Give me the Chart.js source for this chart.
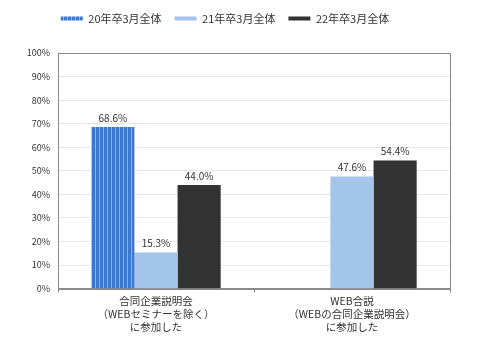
<!DOCTYPE html>
<html>
<head>
<meta charset="utf-8">
<script src="https://cdn.jsdelivr.net/npm/chart.js@4/dist/chart.umd.min.js"></script>
<style>
  html, body { margin: 0; padding: 0; background: #fff; }
  #wrap { width: 485px; height: 338px; }
</style>
</head>
<body>
<div id="wrap"><canvas id="surveyChart"></canvas></div>
<script>
const categories = [
  ['合同企業説明会', '（WEBセミナーを除く）', 'に参加した'],
  ['WEB合説', '（WEBの合同企業説明会）', 'に参加した']
];
const seriesNames = ['20年卒3月全体', '21年卒3月全体', '22年卒3月全体'];
const grad20 = [68.6, null];
const grad21 = [15.3, 47.6];
const grad22 = [44.0, 54.4];
const yTicks = [0, 10, 20, 30, 40, 50, 60, 70, 80, 90, 100];

const FONT = '"Noto Sans CJK JP", "DejaVu Sans", sans-serif';

// vertical stripes for the 20年卒 series
function stripePattern() {
  const c = document.createElement('canvas');
  c.width = 4; c.height = 4;
  const g = c.getContext('2d');
  g.fillStyle = '#3b78d0';
  g.fillRect(0, 0, 4, 4);
  g.fillStyle = '#8db3ea';
  g.fillRect(3, 0, 1, 4);
  return g.createPattern(c, 'repeat');
}
const stripes = stripePattern();

// extra gap under the legend
const legendGap = {
  id: 'legendGap',
  beforeInit(chart) {
    const fit = chart.legend.fit;
    chart.legend.fit = function () {
      fit.call(this);
      this.height += 19;
    };
  }
};

// frame round the plot area (top and right sides)
const frame = {
  id: 'frame',
  afterDraw(chart) {
    const { ctx, chartArea: a } = chart;
    ctx.save();
    ctx.strokeStyle = '#8a8a8a';
    ctx.lineWidth = 1;
    ctx.strokeRect(Math.round(a.left) + 0.5, Math.round(a.top) + 0.5,
      Math.round(a.right - a.left), Math.round(a.bottom - a.top));
    ctx.restore();
  }
};

// percentage labels above each bar
const valueLabels = {
  id: 'valueLabels',
  afterDatasetsDraw(chart) {
    const ctx = chart.ctx;
    ctx.save();
    ctx.font = '10px ' + FONT;
    ctx.fillStyle = '#333';
    ctx.textAlign = 'center';
    ctx.textBaseline = 'bottom';
    chart.data.datasets.forEach((ds, i) => {
      chart.getDatasetMeta(i).data.forEach((bar, j) => {
        const v = ds.data[j];
        if (v == null) return;
        ctx.fillText(v.toFixed(1) + '%', bar.x, bar.y - 4);
      });
    });
    ctx.restore();
  }
};

new Chart(document.getElementById('surveyChart'), {
  type: 'bar',
  data: {
    labels: categories,
    datasets: [
      { label: seriesNames[0], data: grad20, backgroundColor: stripes },
      { label: seriesNames[1], data: grad21, backgroundColor: '#a3c5ec' },
      { label: seriesNames[2], data: grad22, backgroundColor: '#333333' }
    ]
  },
  options: {
    responsive: true,
    maintainAspectRatio: false,
    animation: false,
    devicePixelRatio: 1,
    datasets: {
      bar: { categoryPercentage: 0.66, barPercentage: 1.0 }
    },
    layout: { padding: { left: 0, right: 35, top: 0, bottom: 2 } },
    plugins: {
      tooltip: { enabled: false },
      legend: {
        position: 'top',
        labels: {
          boxWidth: 22,
          boxHeight: 4,
          padding: 13,
          color: '#333',
          font: { family: FONT, size: 11 }
        }
      }
    },
    scales: {
      x: {
        grid: { display: true, drawOnChartArea: false, offset: true, tickLength: 4, color: '#8a8a8a' },
        border: { color: '#8a8a8a' },
        ticks: {
          color: '#333',
          font: { family: FONT, size: 10.5, lineHeight: 1.25 },
          maxRotation: 0,
          padding: 2
        }
      },
      y: {
        min: 0,
        max: 100,
        afterFit: s => { s.width = 58; },
        afterBuildTicks: s => { s.ticks = yTicks.map(v => ({ value: v })); },
        grid: { color: '#e6e6e6', drawTicks: false },
        border: { color: '#8a8a8a' },
        ticks: {
          color: '#333',
          padding: 8,
          font: { family: FONT, size: 9 },
          callback: v => v + '%'
        }
      }
    }
  },
  plugins: [legendGap, frame, valueLabels]
});
</script>
</body>
</html>
